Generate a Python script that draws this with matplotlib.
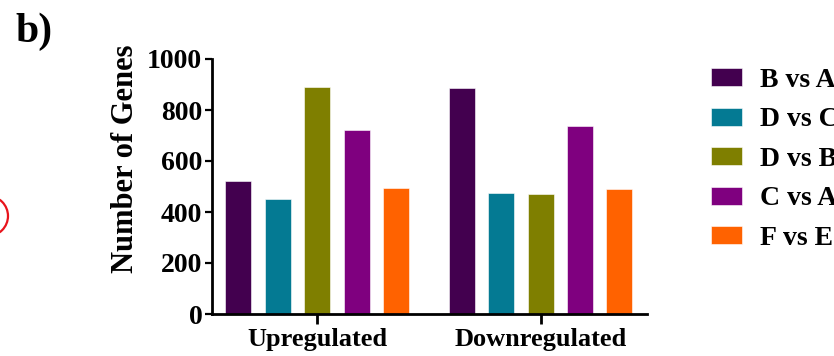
import numpy as np
import matplotlib
matplotlib.use("Agg")
import matplotlib.pyplot as plt
from matplotlib.patches import Ellipse

plt.rcParams["font.family"] = "Liberation Serif"
plt.rcParams["font.weight"] = "bold"

groups = ["Upregulated", "Downregulated"]
comparisons = ["B vs A", "D vs C", "D vs B", "C vs A", "F vs E"]
colors = ["#43004f", "#047a93", "#7f7f00", "#7f007f", "#ff6200"]
# genes per comparison, one value per group
counts = {
    "B vs A": [522, 885],
    "D vs C": [451, 474],
    "D vs B": [892, 471],
    "C vs A": [720, 739],
    "F vs E": [493, 492],
}

W, H = 834, 356
fig = plt.figure(figsize=(W / 100, H / 100), dpi=100)
ax = fig.add_axes([212 / W, 1 - 314 / H, (647 - 212) / W, (314 - 59) / H])

centers = np.array([0.0, 5.67])
for i, name in enumerate(comparisons):
    ax.bar(centers + (i - 2), counts[name], width=0.66, color=colors[i],
           label=name, edgecolor="white", linewidth=0.4)

ax.set_xlim(-2.67, 8.37)
ax.set_ylim(0, 1000)
ax.set_yticks(np.arange(0, 1001, 200))
ax.set_xticks(centers)
ax.set_xticklabels(groups, fontsize=19, fontweight="bold")
ax.set_ylabel("Number of Genes", fontsize=22, fontweight="bold")
ax.yaxis.set_label_coords(-0.166, 0.61)

for side in ["top", "right"]:
    ax.spines[side].set_visible(False)
for side in ["left", "bottom"]:
    ax.spines[side].set_linewidth(2)
ax.tick_params(axis="y", labelsize=20, width=1.6, length=5, pad=2)
ax.tick_params(axis="x", width=2, length=7, pad=3)
for lbl in ax.get_yticklabels():
    lbl.set_fontweight("bold")

# legend runs past the right edge of the figure
fig.legend(loc="upper left", bbox_to_anchor=(711 / W, 1 - 68 / H),
           frameon=False, fontsize=20, handlelength=1.12, handleheight=0.62,
           handletextpad=0.66, labelspacing=0.52, borderpad=0,
           borderaxespad=0)

fig.text(15 / W, 1 - 13 / H, "b)", fontsize=30, fontweight="bold",
         va="top", ha="left")

fig.add_artist(Ellipse((-12 / W, 1 - 216 / H), 40 / W, 40 / H,
                       transform=fig.transFigure, fill=False,
                       edgecolor="#e8141c", linewidth=1.6, clip_on=False))

fig.savefig("out.png", dpi=100)
